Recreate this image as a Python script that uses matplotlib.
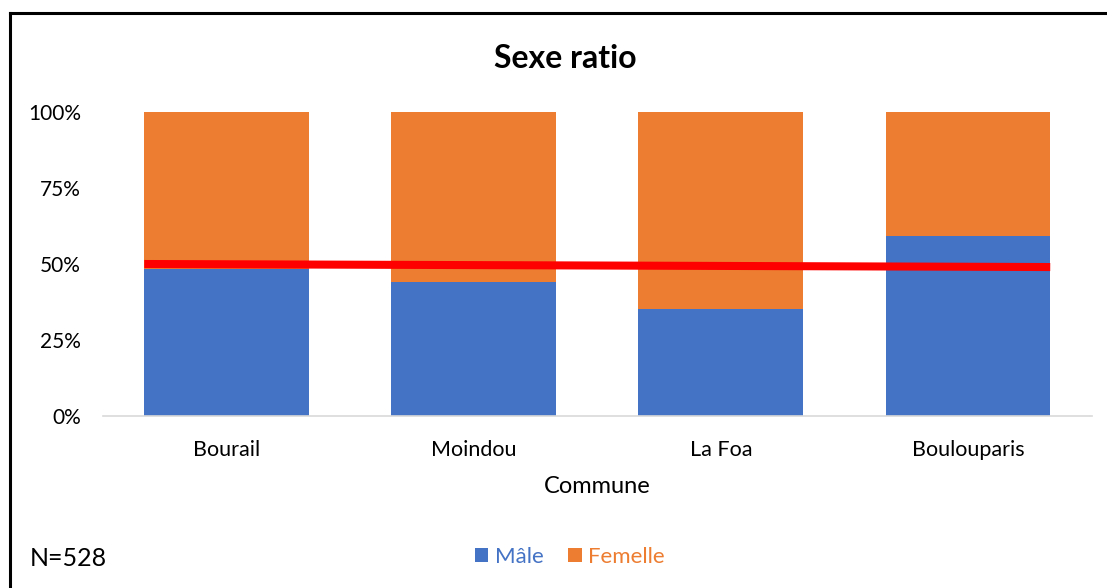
import matplotlib.pyplot as plt
from matplotlib.lines import Line2D
from matplotlib.ticker import PercentFormatter

plt.rcParams['font.family'] = ['Lato', 'DejaVu Sans']

communes = ['Bourail', 'Moindou', 'La Foa', 'Boulouparis']
male = [0.484, 0.44, 0.352, 0.591]
female = [1 - m for m in male]
ratio_line = [0.50, 0.49]

blue = '#4472C4'
orange = '#ED7D31'

fig = plt.figure(figsize=(11.07, 5.88), dpi=100)
ax = fig.add_axes([103 / 1107, 1 - 416 / 588, (1091.5 - 103) / 1107, 304 / 588])

x = range(len(communes))
ax.bar(x, male, width=0.667, color=blue, label='Mâle', zorder=2)
ax.bar(x, female, width=0.667, bottom=male, color=orange, label='Femelle', zorder=2)
ax.plot([-0.333, len(communes) - 1 + 0.333], ratio_line, color='#FF0000', lw=5.8,
        solid_capstyle='butt', zorder=3)

ax.set_xlim(-0.5, len(communes) - 0.5)
ax.set_ylim(0, 1)
ax.set_yticks([0, 0.25, 0.5, 0.75, 1.0])
ax.yaxis.set_major_formatter(PercentFormatter(1.0, decimals=0))
ax.set_xticks(list(x))
ax.set_xticklabels(communes)
ax.tick_params(length=0, labelsize=15, colors='black')
ax.tick_params(axis='y', pad=16)
ax.tick_params(axis='x', pad=17, labelsize=15.5)
for s in ['top', 'right', 'left']:
    ax.spines[s].set_visible(False)
ax.spines['bottom'].set_color('#D9D9D9')
ax.spines['bottom'].set_linewidth(1.2)

ax.set_xlabel('Commune', fontsize=17, labelpad=12)
fig.text(565 / 1107, 1 - 58 / 588, 'Sexe ratio', fontsize=23, fontweight='bold',
         ha='center', va='center')
fig.text(30 / 1107, 1 - 559 / 588, 'N=528', fontsize=18, ha='left', va='center')

leg = fig.legend(loc='center', bbox_to_anchor=(570 / 1107, 1 - 557 / 588), ncol=2,
                 frameon=False, fontsize=16, handlelength=0.6, handleheight=0.6,
                 handletextpad=0.3, columnspacing=1.1)
for txt, col in zip(leg.get_texts(), [blue, orange]):
    txt.set_color(col)

fig.add_artist(Line2D([10 / 1107, 1], [1 - 13 / 588, 1 - 13 / 588], color='black', lw=2.2))
fig.add_artist(Line2D([10 / 1107, 10 / 1107], [0, 1 - 13 / 588], color='black', lw=2.2))

fig.savefig('out.png', dpi=100)
